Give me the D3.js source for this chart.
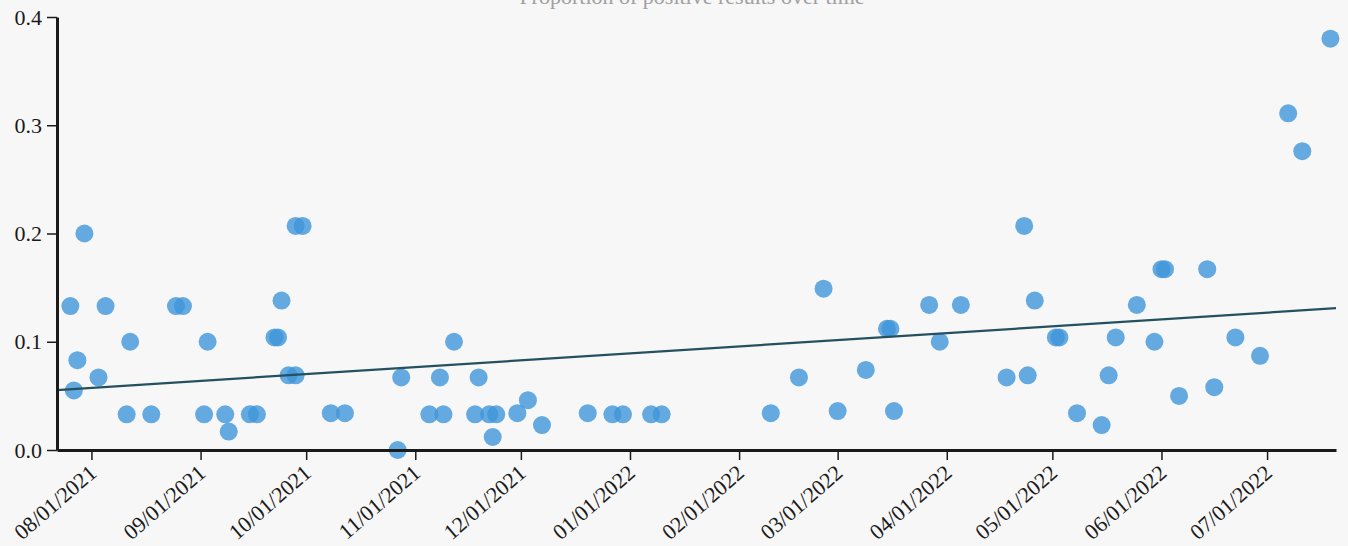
<!DOCTYPE html>
<html>
<head>
<meta charset="utf-8">
<script src="https://cdn.jsdelivr.net/npm/d3@7"></script>
<style>
  html, body { margin: 0; padding: 0; background: #f7f7f7; overflow: hidden; }
  svg { display: block; }
  .serif { font-family: "Liberation Serif", "Times New Roman", "DejaVu Serif", serif; }
</style>
</head>
<body>
<svg id="chart" width="1348" height="546"></svg>
<script>
// ---- data ----
const dates = [
  "2021-07-26","2021-07-27","2021-07-28","2021-07-30","2021-08-03","2021-08-05",
  "2021-08-11","2021-08-12","2021-08-18","2021-08-25","2021-08-27","2021-09-02",
  "2021-09-03","2021-09-08","2021-09-09","2021-09-15","2021-09-17","2021-09-22",
  "2021-09-23","2021-09-24","2021-09-26","2021-09-28","2021-09-28","2021-09-30",
  "2021-10-08","2021-10-12","2021-10-27","2021-10-28","2021-11-05","2021-11-08",
  "2021-11-09","2021-11-12","2021-11-18","2021-11-19","2021-11-22","2021-11-23",
  "2021-11-24","2021-11-30","2021-12-03","2021-12-07","2021-12-20","2021-12-27",
  "2021-12-30","2022-01-07","2022-01-10","2022-02-10","2022-02-18","2022-02-25",
  "2022-03-01","2022-03-09","2022-03-15","2022-03-16","2022-03-17","2022-03-27",
  "2022-03-30","2022-04-05","2022-04-18","2022-04-23","2022-04-24","2022-04-26",
  "2022-05-02","2022-05-03","2022-05-08","2022-05-15","2022-05-17","2022-05-19",
  "2022-05-25","2022-05-30","2022-06-01","2022-06-02","2022-06-06","2022-06-14",
  "2022-06-16","2022-06-22","2022-06-29","2022-07-07","2022-07-11","2022-07-19"
];
const values = [
  0.133,0.055,0.083,0.200,0.067,0.133,
  0.033,0.100,0.033,0.133,0.133,0.033,
  0.100,0.033,0.017,0.033,0.033,0.104,
  0.104,0.138,0.069,0.069,0.207,0.207,
  0.034,0.034,0.000,0.067,0.033,0.067,
  0.033,0.100,0.033,0.067,0.033,0.012,
  0.033,0.034,0.046,0.023,0.034,0.033,
  0.033,0.033,0.033,0.034,0.067,0.149,
  0.036,0.074,0.112,0.112,0.036,0.134,
  0.100,0.134,0.067,0.207,0.069,0.138,
  0.104,0.104,0.034,0.023,0.069,0.104,
  0.134,0.100,0.167,0.167,0.050,0.167,
  0.058,0.104,0.087,0.311,0.276,0.380
];
const xDomain = ["2021-07-22T05:00:00Z", "2022-07-20T14:00:00Z"];
const yTicks = [0.0, 0.1, 0.2, 0.3, 0.4];
const trendDates = ["2021-07-22T05:00:00Z", "2022-07-20T14:00:00Z"];
const trendValues = [0.0554, 0.131];
const titleText = "Proportion of positive results over time";

// ---- drawing ----
const plotLeft = 57, plotRight = 1336, plotTop = 17, plotBottom = 450;
const svg = d3.select("#chart");

const x = d3.scaleUtc().domain(xDomain.map(d => new Date(d))).range([plotLeft, plotRight]);
const y = d3.scaleLinear().domain([0, 0.4]).range([plotBottom, plotTop]);

const points = dates.map((d, i) => ({ date: new Date(d + "T00:00:00Z"), value: values[i] }));

// title (cut off at the top in the reference)
svg.append("text")
  .attr("class", "serif")
  .attr("x", 692).attr("y", 4)
  .attr("text-anchor", "middle")
  .style("font-size", "22px")
  .attr("fill", "#a0a0a0")
  .text(titleText);

// dots
svg.append("g")
  .selectAll("circle")
  .data(points)
  .join("circle")
  .attr("cx", d => x(d.date))
  .attr("cy", d => y(d.value))
  .attr("r", 9)
  .attr("fill", "#3f95d8")
  .attr("fill-opacity", 0.8);

// trend line
const trend = trendDates.map((d, i) => ({ date: new Date(d), value: trendValues[i] }));
svg.append("path")
  .datum(trend)
  .attr("d", d3.line().x(d => x(d.date)).y(d => y(d.value)))
  .attr("fill", "none")
  .attr("stroke", "#24505f")
  .attr("stroke-width", 2.2);

// x axis
const xAxis = svg.append("g")
  .attr("transform", `translate(0,${plotBottom})`)
  .call(d3.axisBottom(x)
    .ticks(d3.utcMonth.every(1))
    .tickFormat(d3.utcFormat("%m/%d/%Y"))
    .tickSize(10)
    .tickSizeOuter(0));
xAxis.attr("font-family", null);
xAxis.select(".domain").attr("stroke", "#1a1a1a").attr("stroke-width", 3);
xAxis.selectAll(".tick line").attr("stroke", "#1a1a1a").attr("stroke-width", 1.5);
xAxis.selectAll(".tick text")
  .attr("class", "serif")
  .attr("x", 0).attr("y", 0).attr("dy", 0)
  .attr("text-anchor", "end")
  .attr("transform", "translate(6,25) rotate(-41)")
  .style("font-size", "22px")
  .attr("fill", "#1a1a1a");

// y axis
const yAxis = svg.append("g")
  .attr("transform", `translate(${plotLeft},0)`)
  .call(d3.axisLeft(y)
    .tickValues(yTicks)
    .tickFormat(d3.format(".1f"))
    .tickSize(10)
    .tickPadding(5)
    .tickSizeOuter(0));
yAxis.attr("font-family", null);
yAxis.select(".domain").attr("stroke", "#1a1a1a").attr("stroke-width", 3);
yAxis.selectAll(".tick line").attr("stroke", "#1a1a1a").attr("stroke-width", 1.5);
yAxis.selectAll(".tick text")
  .attr("class", "serif")
  .style("font-size", "22px")
  .attr("fill", "#1a1a1a");
</script>
</body>
</html>
